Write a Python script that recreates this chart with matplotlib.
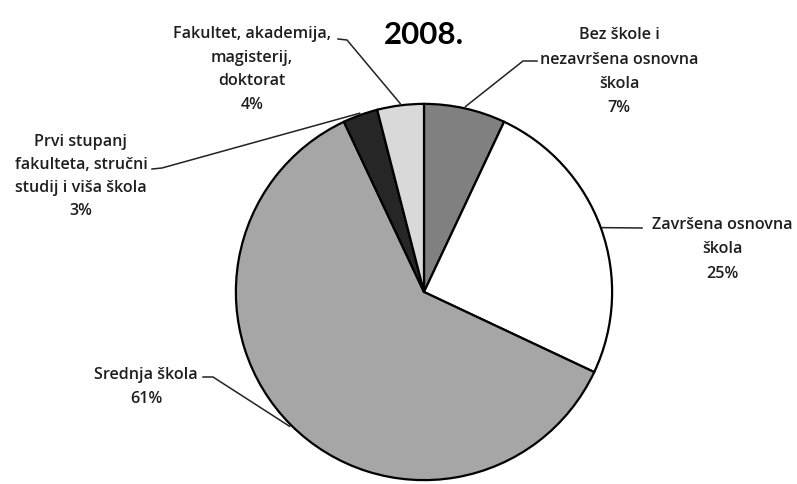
import numpy as np
import matplotlib
matplotlib.use("Agg")
from matplotlib import pyplot as plt
from matplotlib import lines

# values of the 2008 education structure, clockwise from the top
categories = ["Bez škole i\nnezavršena osnovna\nškola",
              "Završena osnovna\nškola",
              "Srednja škola",
              "Prvi stupanj\nfakulteta, stručni\nstudij i viša škola",
              "Fakultet, akademija,\nmagisterij,\ndoktorat"]
shares = [7, 25, 61, 3, 4]
colors = ["#808080", "#ffffff", "#a6a6a6", "#262626", "#d9d9d9"]
title = "2008."

W, H = 797, 485
cx, cy, r = 424, 293, 190   # pie centre and radius in pixels

# label centre (x, y of first line), elbow of leader line, line step
label_pos = [(619, 33, 24.5), (722, 223, 24.5), (146, 373, 24.5),
             (81, 140, 23.0), (252, 32, 23.7)]
elbows = [((537, 62), (523, 62)),
          ((642, 229), (642, 229)),
          ((203, 378), (213, 378)),
          ((152, 170), (162, 169)),
          ((338, 40), (347, 41))]


def fig_xy(x, y):
    return x / W, 1 - y / H


fig = plt.figure(figsize=(W / 100, H / 100), dpi=100)
ax = fig.add_axes([(cx - r) / W, (H - cy - r) / H, 2 * r / W, 2 * r / H])
wedges, _ = ax.pie(shares, colors=colors, startangle=90, counterclock=False,
                   radius=1,
                   wedgeprops=dict(edgecolor="black", linewidth=1.6))
ax.set_xlim(-1.01, 1.01)
ax.set_ylim(-1.01, 1.01)
ax.set_aspect("equal")
ax.axis("off")

font = "Open Sans"
txt_color = "#1e1e1e"

for w, name, val, (lx, ly, step), (e_out, e_in) in zip(
        wedges, categories, shares, label_pos, elbows):
    text_lines = name.split("\n") + ["%d%%" % val]
    for i, t in enumerate(text_lines):
        fig.text(*fig_xy(lx, ly + i * step), t, ha="center",
                 va="center_baseline", fontsize=11.6, family=font,
                 fontweight="semibold", color=txt_color)
    # leader line from the label to the middle of the slice edge
    ang = np.deg2rad((w.theta1 + w.theta2) / 2)
    px = cx + r * np.cos(ang)
    py = cy - r * np.sin(ang)
    xs, ys = zip(*[fig_xy(*e_out), fig_xy(*e_in), fig_xy(px, py)])
    fig.add_artist(lines.Line2D(xs, ys, color="#222222", linewidth=1.1,
                                transform=fig.transFigure))

fig.text(*fig_xy(424, 32), title, ha="center", va="center_baseline",
         fontsize=22.5, fontweight="bold", family="Lato", color="black")

fig.savefig("out.png", dpi=100)
